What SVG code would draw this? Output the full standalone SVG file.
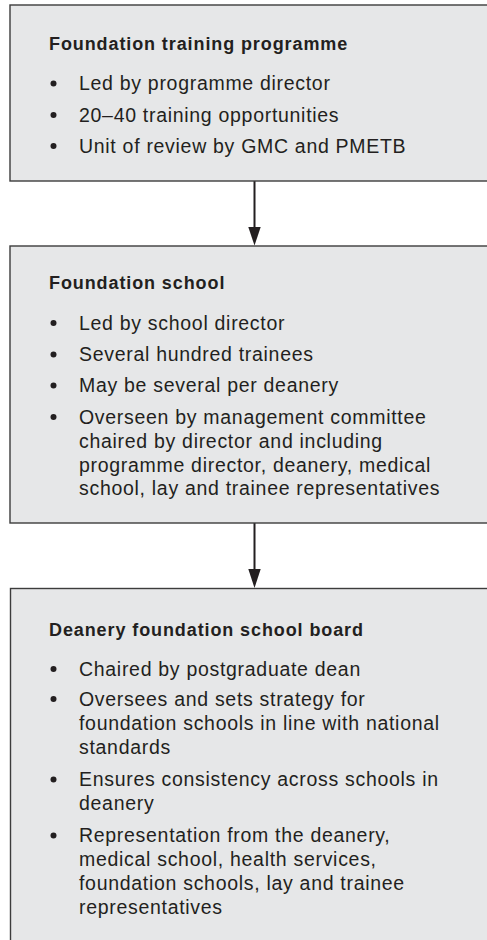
<svg xmlns="http://www.w3.org/2000/svg" width="487" height="940" viewBox="0 0 487 940">
<style>
.box{fill:#e6e7e8;stroke:#3c3c3c;stroke-width:1.4}
.t{font-family:"Liberation Sans",Arial,sans-serif;font-weight:bold;font-size:18px;letter-spacing:0.9px;fill:#231f20}
.b{font-family:"Liberation Sans",Arial,sans-serif;font-size:19.5px;letter-spacing:0.7px;fill:#231f20}
.d{fill:#231f20}
.c{stroke:#231f20;stroke-width:2;fill:none}
.h{fill:#231f20}
</style>
<rect width="487" height="940" fill="#ffffff"/>
<g id="connectors">
<line class="c" x1="254.5" y1="181" x2="254.5" y2="230"/>
<polygon class="h" points="248.3,227 260.7,227 254.5,245.5"/>
<line class="c" x1="254.5" y1="523" x2="254.5" y2="572"/>
<polygon class="h" points="248.3,569 260.7,569 254.5,588"/>
</g>
<g id="node-programme">
<rect class="box" x="10" y="5" width="490" height="176"/>
<text class="t" x="49" y="49.5">Foundation training programme</text>
<circle class="d" cx="53.5" cy="83.5" r="3"/>
<text class="b" x="79" y="90">Led by programme director</text>
<circle class="d" cx="53.5" cy="115" r="3"/>
<text class="b" x="79" y="121.5">20–40 training opportunities</text>
<circle class="d" cx="53.5" cy="146" r="3"/>
<text class="b" x="79" y="152.5">Unit of review by GMC and PMETB</text>
</g>
<g id="node-school">
<rect class="box" x="10" y="246" width="490" height="277"/>
<text class="t" x="49" y="288.5">Foundation school</text>
<circle class="d" cx="53.5" cy="323" r="3"/>
<text class="b" x="79" y="329.5">Led by school director</text>
<circle class="d" cx="53.5" cy="354.5" r="3"/>
<text class="b" x="79" y="361">Several hundred trainees</text>
<circle class="d" cx="53.5" cy="385.5" r="3"/>
<text class="b" x="79" y="392">May be several per deanery</text>
<circle class="d" cx="53.5" cy="417" r="3"/>
<text class="b" x="79" y="423.5">Overseen by management committee</text>
<text class="b" x="79" y="447.5">chaired by director and including</text>
<text class="b" x="79" y="471.5">programme director, deanery, medical</text>
<text class="b" x="79" y="495">school, lay and trainee representatives</text>
</g>
<g id="node-board">
<rect class="box" x="10.5" y="588.5" width="490" height="360"/>
<text class="t" x="49" y="635.5">Deanery foundation school board</text>
<circle class="d" cx="53.5" cy="669" r="3"/>
<text class="b" x="79" y="675.5">Chaired by postgraduate dean</text>
<circle class="d" cx="53.5" cy="699" r="3"/>
<text class="b" x="79" y="705.5">Oversees and sets strategy for</text>
<text class="b" x="79" y="730">foundation schools in line with national</text>
<text class="b" x="79" y="754">standards</text>
<circle class="d" cx="53.5" cy="779.5" r="3"/>
<text class="b" x="79" y="786">Ensures consistency across schools in</text>
<text class="b" x="79" y="809.5">deanery</text>
<circle class="d" cx="53.5" cy="835.5" r="3"/>
<text class="b" x="79" y="842">Representation from the deanery,</text>
<text class="b" x="79" y="866">medical school, health services,</text>
<text class="b" x="79" y="890">foundation schools, lay and trainee</text>
<text class="b" x="79" y="913.5">representatives</text>
</g>
</svg>
